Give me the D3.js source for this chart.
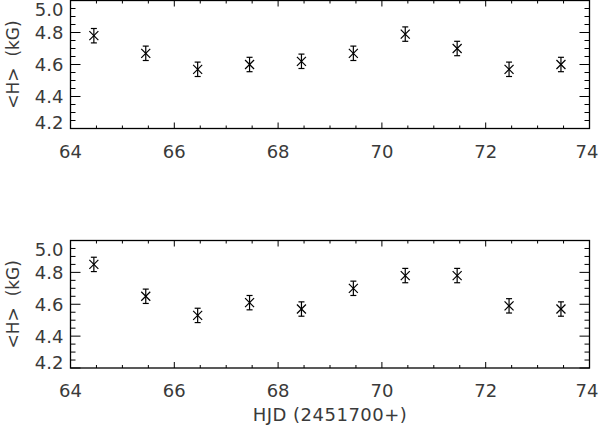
<!DOCTYPE html>
<html><head><meta charset="utf-8">
<script src="https://cdn.jsdelivr.net/npm/d3@7"></script>
<style>body{margin:0;background:#fff}svg{display:block}text{font-family:"DejaVu Sans",sans-serif;fill:#3a3a3a;white-space:pre}</style>
</head><body><svg id="c" width="600" height="426"></svg>
<script>
const hjd = [64.45, 65.45, 66.45, 67.45, 68.45, 69.45, 70.45, 71.45, 72.45, 73.45];
const fieldTop = [4.78, 4.67, 4.57, 4.60, 4.62, 4.67, 4.79, 4.70, 4.57, 4.60];
const errTop = [0.045, 0.045, 0.045, 0.045, 0.045, 0.045, 0.045, 0.045, 0.045, 0.045];
const fieldBottom = [4.85, 4.65, 4.53, 4.61, 4.57, 4.70, 4.78, 4.78, 4.59, 4.57];
const errBottom = [0.045, 0.045, 0.045, 0.045, 0.045, 0.045, 0.045, 0.045, 0.045, 0.045];
const xTicks = [64, 66, 68, 70, 72, 74];
const yTicks = [4.2, 4.4, 4.6, 4.8, 5.0];
const yLabel = "<H>  (kG)";
const xLabel = "HJD (2451700+)";

const svg = d3.select("#c");
const left = 70.5, right = 589.5;
const x = d3.scaleLinear().domain([64, 74]).range([left, right]);
const xMinor = d3.range(64, 74.01, 0.5);
const yMinor = d3.range(4.2, 5.001, 0.05).map(v => +v.toFixed(2));

function panel(top, bottom, vals, errs, showTitle) {
  const y = d3.scaleLinear().domain([4.2, 5.0]).range([bottom, top]);
  const g = svg.append("g");
  g.append("rect").attr("x", left).attr("y", top).attr("width", right - left).attr("height", bottom - top)
    .attr("fill", "none").attr("stroke", "#000").attr("stroke-width", 1.3);
  xMinor.forEach(v => {
    const major = xTicks.includes(+v.toFixed(2));
    const len = major ? 6 : 3;
    g.append("line").attr("x1", x(v)).attr("x2", x(v)).attr("y1", bottom).attr("y2", bottom - len).attr("stroke", "#000");
    g.append("line").attr("x1", x(v)).attr("x2", x(v)).attr("y1", top).attr("y2", top + len).attr("stroke", "#000");
  });
  yMinor.forEach(v => {
    const major = yTicks.some(t => Math.abs(t - v) < 1e-6);
    const len = major ? 10 : 5;
    g.append("line").attr("x1", left).attr("x2", left + len).attr("y1", y(v)).attr("y2", y(v)).attr("stroke", "#000");
    g.append("line").attr("x1", right).attr("x2", right - len).attr("y1", y(v)).attr("y2", y(v)).attr("stroke", "#000");
  });
  g.selectAll(".xl").data(xTicks).enter().append("text")
    .attr("x", d => Math.min(x(d), 587)).attr("y", bottom + 29).attr("text-anchor", "middle")
    .attr("font-size", 18).text(d => d);
  g.selectAll(".yl").data(yTicks).enter().append("text")
    .attr("x", left - 7).attr("text-anchor", "end").attr("dominant-baseline", "central")
    .attr("y", d => Math.min(Math.max(y(d), top + 9), bottom - 6))
    .attr("font-size", 18).text(d => d.toFixed(1));
  const cy = (top + bottom) / 2;
  g.append("text").attr("transform", `translate(13,${cy}) rotate(-90)`)
    .attr("text-anchor", "middle").attr("dominant-baseline", "central")
    .attr("font-size", 17).text(yLabel);
  if (showTitle) {
    g.append("text").attr("x", (left + right) / 2).attr("y", bottom + 53).attr("text-anchor", "middle")
      .attr("font-size", 18).style("letter-spacing", "0.5px").text(xLabel);
  }
  hjd.forEach((h, i) => {
    const px = x(h), py = y(vals[i]), pe1 = y(vals[i] + errs[i]), pe2 = y(vals[i] - errs[i]);
    const s = "#000";
    g.append("line").attr("x1", px).attr("x2", px).attr("y1", pe1).attr("y2", pe2).attr("stroke", s).attr("stroke-width", 1.2);
    g.append("line").attr("x1", px - 3).attr("x2", px + 3).attr("y1", pe1).attr("y2", pe1).attr("stroke", s).attr("stroke-width", 1.2);
    g.append("line").attr("x1", px - 3).attr("x2", px + 3).attr("y1", pe2).attr("y2", pe2).attr("stroke", s).attr("stroke-width", 1.2);
    g.append("line").attr("x1", px - 4.5).attr("x2", px + 4.5).attr("y1", py - 4.5).attr("y2", py + 4.5).attr("stroke", s).attr("stroke-width", 1.2);
    g.append("line").attr("x1", px - 4.5).attr("x2", px + 4.5).attr("y1", py + 4.5).attr("y2", py - 4.5).attr("stroke", s).attr("stroke-width", 1.2);
  });
}
panel(0.5, 128.5, fieldTop, errTop, false);
panel(240.5, 368, fieldBottom, errBottom, true);
</script></body></html>
